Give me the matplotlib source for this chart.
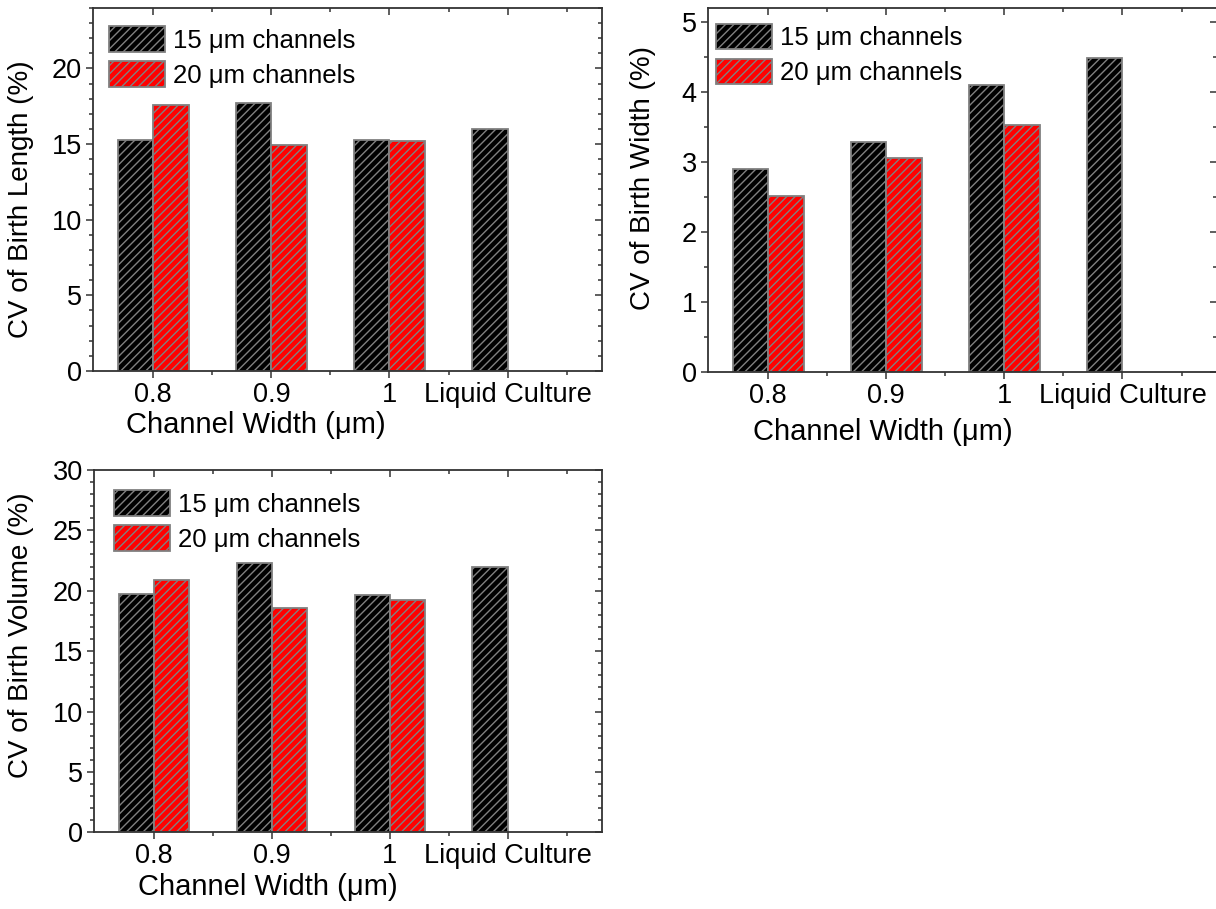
import numpy as np
import matplotlib
matplotlib.use("Agg")
import matplotlib.pyplot as plt
from matplotlib.ticker import MultipleLocator, FixedLocator

# data
categories = ["0.8", "0.9", "1", "Liquid Culture"]
length_15 = [15.3, 17.7, 15.25, 16.0]
length_20 = [17.6, 14.95, 15.2]
width_15 = [2.9, 3.29, 4.1, 4.49]
width_20 = [2.51, 3.06, 3.53]
volume_15 = [19.75, 22.3, 19.65, 22.0]
volume_20 = [20.9, 18.6, 19.2]
series_labels = ["15 \u03bcm channels", "20 \u03bcm channels"]

plt.rcParams['font.family'] = ['Liberation Sans', 'DejaVu Sans']
plt.rcParams['hatch.linewidth'] = 1.0

EDGE = '#808080'
SPINE = '#333333'


def style_axes(ax, ymax, ymajor, yminor):
    x = np.arange(1, len(categories) + 1)
    ax.set_xlim(0.49, 4.8)
    ax.set_ylim(0, ymax)
    ax.set_xticks(x)
    ax.set_xticklabels(categories)
    ax.xaxis.set_minor_locator(FixedLocator(x + 0.5))
    ax.yaxis.set_major_locator(MultipleLocator(ymajor))
    ax.yaxis.set_minor_locator(MultipleLocator(yminor))
    for s in ax.spines.values():
        s.set_color(SPINE)
        s.set_linewidth(1.3)
    ax.tick_params(which='both', direction='out', colors=SPINE, labelcolor='black',
                   labelsize=19.5, width=1.1)
    ax.tick_params(which='major', length=5, pad=3)
    ax.tick_params(which='minor', length=3)
    # mirrored ticks on top/right point inward
    top = ax.secondary_xaxis('top')
    top.set_xticks(x)
    top.xaxis.set_minor_locator(FixedLocator(x + 0.5))
    top.tick_params(which='both', direction='in', colors=SPINE, labeltop=False, width=1.1)
    top.tick_params(which='major', length=5)
    top.tick_params(which='minor', length=3)
    top.spines['top'].set_visible(False)
    right = ax.secondary_yaxis('right')
    right.yaxis.set_major_locator(MultipleLocator(ymajor))
    right.yaxis.set_minor_locator(MultipleLocator(yminor))
    right.tick_params(which='both', direction='in', colors=SPINE, labelright=False, width=1.1)
    right.tick_params(which='major', length=5)
    right.tick_params(which='minor', length=3)
    right.spines['right'].set_visible(False)


def draw_panel(ax, v15, v20, ylabel, ymax, ymajor, yminor, leg_xy, xl_xy, yl_xy):
    x15 = np.arange(1, len(v15) + 1)
    x20 = np.arange(1, len(v20) + 1)
    ax.bar(x15, v15, width=-0.3, align='edge', color='black', edgecolor=EDGE,
           hatch='////', linewidth=1.3, label=series_labels[0], zorder=2)
    ax.bar(x20, v20, width=0.3, align='edge', color='red', edgecolor=EDGE,
           hatch='////', linewidth=1.3, label=series_labels[1], zorder=2)
    style_axes(ax, ymax, ymajor, yminor)
    ax.set_xlabel("Channel Width (\u03bcm)", fontsize=21)
    ax.set_ylabel(ylabel, fontsize=20)
    ax.xaxis.set_label_coords(*xl_xy)
    ax.xaxis.label.set_va('center')
    ax.yaxis.set_label_coords(*yl_xy)
    ax.yaxis.label.set_va('center')
    ax.legend(loc='upper left', bbox_to_anchor=leg_xy, frameon=False, fontsize=18.5,
              borderpad=0, borderaxespad=0, handlelength=2.2, handleheight=1.15,
              handletextpad=0.3, labelspacing=0.33)


fig = plt.figure(figsize=(12.16, 9.09), dpi=100)
ax1 = fig.add_axes([0.0765, 0.5919, 0.4186, 0.3993])
ax2 = fig.add_axes([0.5822, 0.5911, 0.4186, 0.4001])
ax3 = fig.add_axes([0.0773, 0.0844, 0.4178, 0.3986])

draw_panel(ax1, length_15, length_20, "CV of Birth Length (%)", 24, 5, 1,
           (0.031, 0.95), (0.319, -0.15), (-0.1415, 0.474))
draw_panel(ax2, width_15, width_20, "CV of Birth Width (%)", 5.2, 1, 0.5,
           (0.015, 0.957), (0.344, -0.165), (-0.128, 0.533))
draw_panel(ax3, volume_15, volume_20, "CV of Birth Volume (%)", 30, 5, 1,
           (0.039, 0.944), (0.343, -0.15), (-0.144, 0.545))

fig.savefig("out.png", dpi=100)
